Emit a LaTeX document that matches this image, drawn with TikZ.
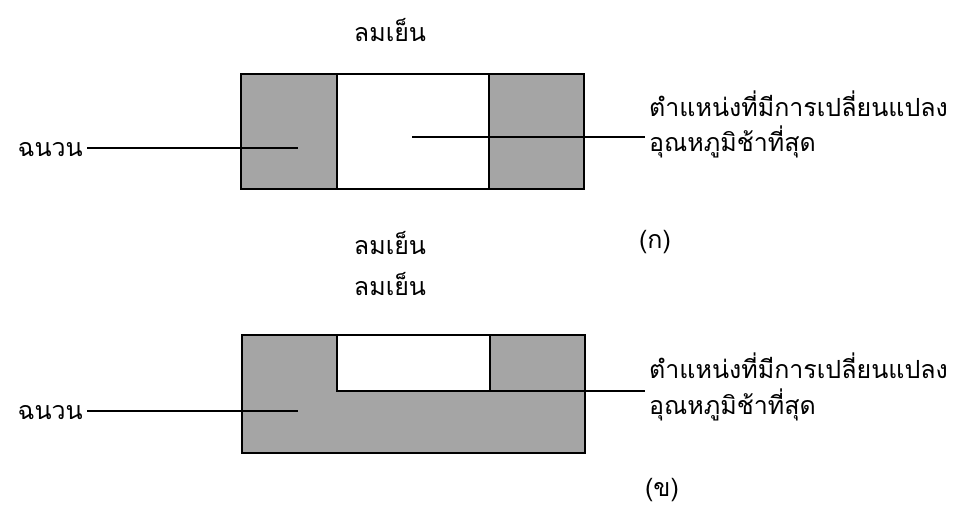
\documentclass[tikz,border=0pt]{standalone}
\usepackage{fontspec}
\newfontfamily\thaifont[Script=Thai]{Loma}
\definecolor{insul}{RGB}{165,165,165}
\begin{document}
\begin{tikzpicture}[x=1pt,y=-1pt,
  lbl/.style={font=\thaifont\fontsize{25}{30}\selectfont, inner sep=0pt},
  lbll/.style={lbl, anchor=west},
  lblr/.style={lbl, anchor=east},
  edge/.style={draw=black, line width=1.3pt},
  lead/.style={draw=black, line width=1.1pt}]
\useasboundingbox (0,0) rectangle (973,509);
% ---- figure (a)
\fill[insul] (241,74) rectangle (337,189);
\fill[insul] (489,74) rectangle (584,189);
\draw[edge] (241,74) rectangle (584,189);
\draw[edge] (337,74) -- (337,189);
\draw[edge] (489,74) -- (489,189);
\node[lbl] (cool1) at (390,30) {ลมเย็น};
\node[lbl] (cool2) at (390,243) {ลมเย็น};
\node[lbl] (capa) at (655,242) {(ก)};
\node[lblr] (ins1) at (83,150) {ฉนวน};
\node[lbll] (pos1a) at (649,104) {ตำแหน่งที่มีการเปลี่ยนแปลง};
\node[lbll] (pos1b) at (649,142) {อุณหภูมิช้าที่สุด};
\coordinate (ia) at (298,148);
\coordinate (pa) at (412,137);
\draw[lead] (ins1.east) ++(4,-2) -- (ia);
\draw[lead] (pa) -- (645,137);
% ---- figure (b)
\fill[insul] (242,335) rectangle (585,453);
\fill[white] (337,335) rectangle (490,391);
\draw[edge] (242,335) rectangle (585,453);
\draw[edge] (337,335) -- (337,391) -- (490,391) -- (490,335);
\node[lbl] (cool3) at (390,284) {ลมเย็น};
\node[lbl] (capb) at (662,490) {(ข)};
\node[lblr] (ins2) at (83,413) {ฉนวน};
\node[lbll] (pos2a) at (649,366) {ตำแหน่งที่มีการเปลี่ยนแปลง};
\node[lbll] (pos2b) at (649,405) {อุณหภูมิช้าที่สุด};
\coordinate (ib) at (298,411);
\coordinate (pb) at (490,391);
\draw[lead] (ins2.east) ++(4,-2) -- (ib);
\draw[lead] (pb) -- (645,391);
\end{tikzpicture}
\end{document}
